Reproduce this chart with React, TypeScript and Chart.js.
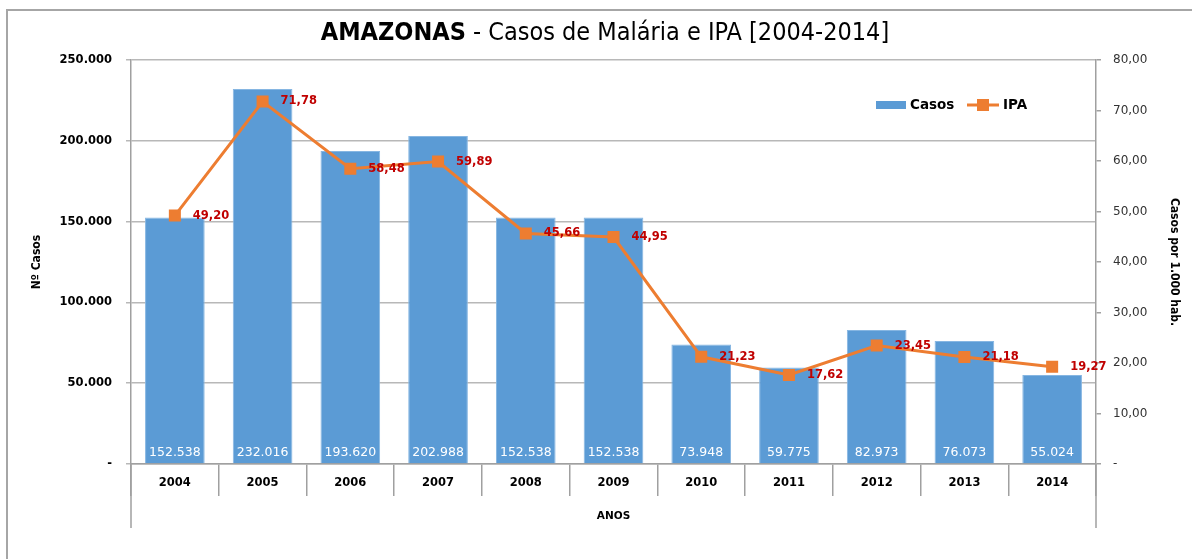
import React, { useEffect, useRef } from 'react';
import { Chart, registerables } from 'chart.js';

Chart.register(...registerables);

const years = ['2004', '2005', '2006', '2007', '2008', '2009', '2010', '2011', '2012', '2013', '2014'];
const casos = [152538, 232016, 193620, 202988, 152538, 152538, 73948, 59775, 82973, 76073, 55024];
const ipa = [49.2, 71.78, 58.48, 59.89, 45.66, 44.95, 21.23, 17.62, 23.45, 21.18, 19.27];

const BAR = '#5B9BD5';
const LINE = '#ED7D31';
const GRID = '#B8B8B8';
const AXIS = '#A0A0A0';
const RED = '#C00000';

const fmtThousands = (n: number) => String(Math.round(n)).replace(/\B(?=(\d{3})+(?!\d))/g, '.');
const fmtDec = (n: number) => n.toFixed(2).replace('.', ',');

const decorPlugin = {
  id: 'decor',
  beforeDraw(chart: any) {
    const ctx = chart.ctx;
    ctx.save();
    ctx.fillStyle = '#ffffff';
    ctx.fillRect(0, 0, chart.width, chart.height);
    // title
    const bold = 'bold 25px "Liberation Sans Narrow", "DejaVu Sans Condensed", sans-serif';
    const norm = '25px "Liberation Sans Narrow", "DejaVu Sans Condensed", sans-serif';
    const t1 = 'AMAZONAS';
    const t2 = ' - Casos de Malária e IPA [2004-2014]';
    ctx.font = bold;
    const w1 = ctx.measureText(t1).width;
    ctx.font = norm;
    const w2 = ctx.measureText(t2).width;
    const cx = 605;
    const x = cx - (w1 + w2) / 2;
    ctx.fillStyle = '#000000';
    ctx.textBaseline = 'middle';
    ctx.textAlign = 'left';
    ctx.font = bold;
    ctx.fillText(t1, x, 33);
    ctx.font = norm;
    ctx.fillText(t2, x + w1, 33);
    ctx.restore();
  },
  afterDatasetsDraw(chart: any) {
    const ctx = chart.ctx;
    const ca = chart.chartArea;
    ctx.save();
    const barMeta = chart.getDatasetMeta(1);
    ctx.font = '12.5px "DejaVu Sans", sans-serif';
    ctx.fillStyle = '#ffffff';
    ctx.textAlign = 'center';
    ctx.textBaseline = 'middle';
    barMeta.data.forEach((el: any, i: number) => {
      ctx.fillText(fmtThousands(casos[i]), el.x, ca.bottom - 11);
    });
    const lineMeta = chart.getDatasetMeta(0);
    ctx.font = 'bold 11.5px "DejaVu Sans", sans-serif';
    ctx.fillStyle = RED;
    ctx.textAlign = 'left';
    lineMeta.data.forEach((el: any, i: number) => {
      ctx.fillText(fmtDec(ipa[i]), el.x + 18, el.y);
    });
    ctx.restore();
  },
  afterDraw(chart: any) {
    const ctx = chart.ctx;
    const ca = chart.chartArea;
    const xs = chart.scales.x;
    ctx.save();
    ctx.strokeStyle = AXIS;
    ctx.lineWidth = 1.5;
    ctx.beginPath();
    ctx.moveTo(xs.left, ca.bottom);
    ctx.lineTo(xs.left, 528);
    ctx.moveTo(xs.right, ca.bottom);
    ctx.lineTo(xs.right, 528);
    ctx.stroke();
    // legend
    const ly = 105;
    ctx.fillStyle = BAR;
    ctx.fillRect(876, ly - 4, 30, 8);
    ctx.font = 'bold 13.5px "DejaVu Sans", sans-serif';
    ctx.fillStyle = '#000000';
    ctx.textAlign = 'left';
    ctx.textBaseline = 'middle';
    ctx.fillText('Casos', 910, ly);
    ctx.strokeStyle = LINE;
    ctx.lineWidth = 3;
    ctx.beginPath();
    ctx.moveTo(967, ly);
    ctx.lineTo(999, ly);
    ctx.stroke();
    ctx.fillStyle = LINE;
    ctx.fillRect(977, ly - 6, 12, 12);
    ctx.fillStyle = '#000000';
    ctx.fillText('IPA', 1003, ly);
    ctx.restore();
  },
};

export default function App() {
  const ref = useRef<HTMLCanvasElement | null>(null);
  useEffect(() => {
    if (!ref.current) return;
    const chart = new Chart(ref.current, {
      type: 'bar',
      data: {
        labels: years,
        datasets: [
          {
            type: 'line',
            label: 'IPA',
            data: ipa,
            yAxisID: 'y2',
            borderColor: LINE,
            backgroundColor: LINE,
            borderWidth: 3,
            pointStyle: 'rect',
            pointRadius: 8.5,
            pointHoverRadius: 8.5,
            pointBackgroundColor: LINE,
            pointBorderWidth: 0,
            tension: 0,
            order: 0,
          } as any,
          {
            type: 'bar',
            label: 'Casos',
            data: casos,
            yAxisID: 'y',
            backgroundColor: BAR,
            borderColor: '#86B6E2',
            borderWidth: { top: 1, left: 1, right: 1, bottom: 0 },
            barPercentage: 0.68,
            categoryPercentage: 1,
            order: 1,
          } as any,
        ],
      },
      options: {
        animation: false,
        responsive: false,
        maintainAspectRatio: false,
        layout: { padding: { top: 60, left: 0, right: 0, bottom: 0 } },
        plugins: {
          legend: { display: false },
          title: { display: false },
          tooltip: { enabled: false },
        },
        scales: {
          x: {
            offset: true,
            grid: {
              offset: true,
              drawOnChartArea: false,
              drawTicks: true,
              tickLength: 32,
              color: AXIS,
              lineWidth: 1.5,
            },
            border: { display: true, color: AXIS, width: 1.5 },
            ticks: {
              padding: -20,
              color: '#000000',
              font: { family: '"DejaVu Sans", sans-serif', size: 11.5, weight: 'bold' },
              maxRotation: 0,
            },
            title: {
              display: true,
              text: 'ANOS',
              color: '#000000',
              font: { family: '"DejaVu Sans", sans-serif', size: 10.5, weight: 'bold' },
              padding: { top: 0, bottom: 36 },
            },
            afterFit: (s: any) => {
              s.height = 95;
            },
          },
          y: {
            position: 'left',
            min: 0,
            max: 250000,
            ticks: {
              stepSize: 50000,
              padding: 14,
              color: '#000000',
              font: { family: '"DejaVu Sans", sans-serif', size: 11.5, weight: 'bold' },
              callback: (v: any) => (Number(v) === 0 ? '-' : fmtThousands(Number(v))),
            },
            grid: {
              color: GRID,
              lineWidth: 1.5,
              tickLength: 5,
              drawTicks: true,
            },
            border: { display: true, color: AXIS, width: 1.5 },
            title: {
              display: true,
              text: 'Nº Casos',
              color: '#000000',
              font: { family: '"Liberation Sans Narrow", "DejaVu Sans Condensed", sans-serif', size: 12, weight: 'bold' },
              padding: { top: 30, bottom: 0 },
            },
            afterFit: (s: any) => {
              s.width = 131;
            },
          },
          y2: {
            position: 'right',
            min: 0,
            max: 80,
            ticks: {
              stepSize: 10,
              padding: 12,
              color: '#333333',
              font: { family: '"DejaVu Sans", sans-serif', size: 12 },
              callback: (v: any) => (Number(v) === 0 ? '-' : fmtDec(Number(v))),
            },
            grid: {
              drawOnChartArea: false,
              color: AXIS,
              lineWidth: 1.5,
              tickLength: 5,
            },
            border: { display: true, color: AXIS, width: 1.5 },
            title: {
              display: true,
              text: 'Casos por 1.000 hab.',
              color: '#000000',
              font: { family: '"Liberation Sans Narrow", "DejaVu Sans Condensed", sans-serif', size: 12, weight: 'bold' },
              padding: { top: 11, bottom: 0 },
            },
            afterFit: (s: any) => {
              s.width = 96;
            },
          },
        },
      },
      plugins: [decorPlugin],
    });
    return () => chart.destroy();
  }, []);

  return (
    <div style={{ position: 'absolute', left: 0, top: 0, width: 1192, height: 559, overflow: 'hidden', background: '#fff' }}>
      <canvas ref={ref} width={1192} height={559} style={{ width: 1192, height: 559, display: 'block' }} />
      <div
        style={{
          position: 'absolute',
          left: 6,
          top: 9,
          width: 1400,
          height: 800,
          borderLeft: '2px solid #A6A6A6',
          borderTop: '2px solid #A6A6A6',
          pointerEvents: 'none',
        }}
      />
    </div>
  );
}
